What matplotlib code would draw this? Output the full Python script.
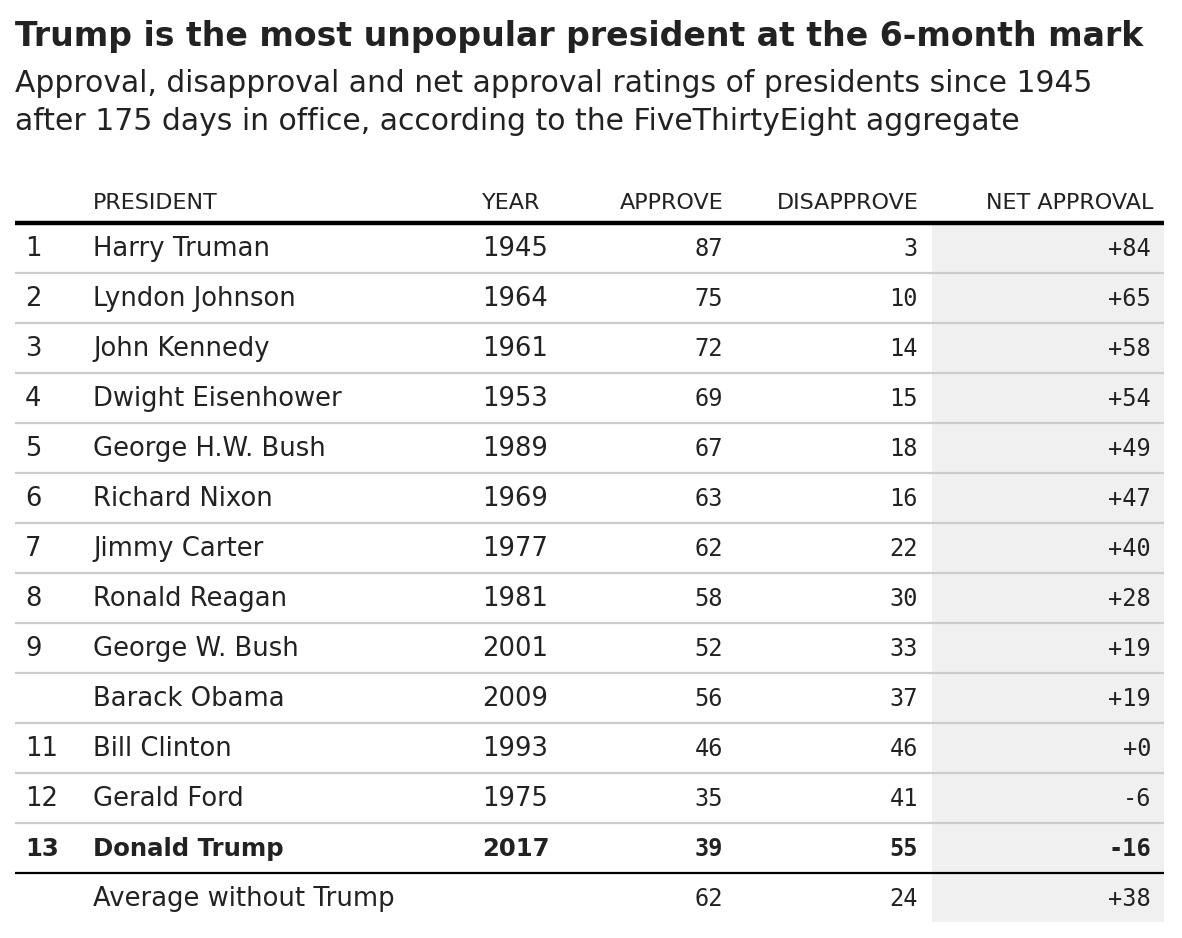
import matplotlib
matplotlib.use("Agg")
import matplotlib.pyplot as plt

ranks = ["1", "2", "3", "4", "5", "6", "7", "8", "9", "", "11", "12", "13"]
presidents = ["Harry Truman", "Lyndon Johnson", "John Kennedy", "Dwight Eisenhower",
              "George H.W. Bush", "Richard Nixon", "Jimmy Carter", "Ronald Reagan",
              "George W. Bush", "Barack Obama", "Bill Clinton", "Gerald Ford", "Donald Trump"]
years = [1945, 1964, 1961, 1953, 1989, 1969, 1977, 1981, 2001, 2009, 1993, 1975, 2017]
approve = [87, 75, 72, 69, 67, 63, 62, 58, 52, 56, 46, 35, 39]
disapprove = [3, 10, 14, 15, 18, 16, 22, 30, 33, 37, 46, 41, 55]
net = [84, 65, 58, 54, 49, 47, 40, 28, 19, 19, 0, -6, -16]
avg_label = "Average without Trump"
avg_approve, avg_disapprove, avg_net = 62, 24, 38
headers = ["PRESIDENT", "YEAR", "APPROVE", "DISAPPROVE", "NET APPROVAL"]
title = "Trump is the most unpopular president at the 6-month mark"
subtitle = ["Approval, disapproval and net approval ratings of presidents since 1945",
            "after 175 days in office, according to the FiveThirtyEight aggregate"]

W, H = 1182, 938
fig = plt.figure(figsize=(W / 100, H / 100), dpi=100)
ax = fig.add_axes([0, 0, 1, 1])
ax.set_xlim(0, W)
ax.set_ylim(H, 0)
ax.axis("off")

TXT = "#222222"
SANS = "DejaVu Sans"
MONO = "DejaVu Sans Mono"
renderer = fig.canvas.get_renderer()


def fit_text(x, y, s, target_w, size, **kw):
    t = ax.text(x, y, s, fontsize=size, va="baseline", **kw)
    w = t.get_window_extent(renderer).width
    t.set_fontsize(size * target_w / w)
    return t


fit_text(15, 46, title, 1132, 25, fontweight="bold", family=SANS, color=TXT)
fit_text(15, 92, subtitle[0], 1077, 21, family=SANS, color=TXT)
fit_text(15, 130, subtitle[1], 1005, 21, family=SANS, color=TXT)

x_rank, x_name, x_year = 25, 93, 482
x_app, x_dis, x_net = 723, 918, 1151
left, right = 15, 1164

n = len(presidents)
row0, step = 256, 50
# gray net column background
ax.fill_between([932, right], 225, 922, color="#f0f0f0", lw=0, zorder=0)

# header
hy = 209
HS = 16
ax.text(x_name, hy, headers[0], fontsize=HS, family=SANS, color=TXT, va="baseline")
ax.text(x_year, hy, headers[1], fontsize=HS, family=SANS, color=TXT, va="baseline")
ax.text(x_app + 1, hy, headers[2], fontsize=HS, family=SANS, color=TXT, va="baseline", ha="right")
ax.text(x_dis + 1, hy, headers[3], fontsize=HS, family=SANS, color=TXT, va="baseline", ha="right")
ax.text(x_net + 2, hy, headers[4], fontsize=HS, family=SANS, color=TXT, va="baseline", ha="right")
ax.plot([left, right], [223.5, 223.5], color="black", lw=3.2, solid_capstyle="butt", zorder=3)


def fmt_net(v):
    return "+%d" % v if v >= 0 else "-%d" % abs(v)


FS, FSB, NS = 18.6, 17.6, 17
for i in range(n):
    y = row0 + step * i
    bold = i == n - 1
    fw = "bold" if bold else "normal"
    fs = FSB if bold else FS
    ax.text(x_rank, y, ranks[i], fontsize=fs, family=SANS, color=TXT, va="baseline", fontweight=fw)
    ax.text(x_name, y, presidents[i], fontsize=fs, family=SANS, color=TXT, va="baseline", fontweight=fw)
    ax.text(x_year, y, str(years[i]), fontsize=fs, family=SANS, color=TXT, va="baseline", fontweight=fw)
    ax.text(x_app, y, str(approve[i]), fontsize=NS, family=MONO, color=TXT, va="baseline", ha="right", fontweight=fw)
    ax.text(x_dis, y, str(disapprove[i]), fontsize=NS, family=MONO, color=TXT, va="baseline", ha="right", fontweight=fw)
    ax.text(x_net, y, fmt_net(net[i]), fontsize=NS, family=MONO, color=TXT, va="baseline", ha="right", fontweight=fw)
    if i < n - 1:
        ly = 273.5 + step * i
        ax.plot([left, right], [ly, ly], color="#cccccc", lw=1.6, solid_capstyle="butt", zorder=2)

ly = 273.5 + step * (n - 1)
ax.plot([left, right], [ly, ly], color="black", lw=1.6, solid_capstyle="butt", zorder=3)

y = row0 + step * n
ax.text(x_name, y, avg_label, fontsize=FS, family=SANS, color=TXT, va="baseline")
ax.text(x_app, y, str(avg_approve), fontsize=NS, family=MONO, color=TXT, va="baseline", ha="right")
ax.text(x_dis, y, str(avg_disapprove), fontsize=NS, family=MONO, color=TXT, va="baseline", ha="right")
ax.text(x_net, y, fmt_net(avg_net), fontsize=NS, family=MONO, color=TXT, va="baseline", ha="right")

fig.savefig("out.png", dpi=100, facecolor="white")
